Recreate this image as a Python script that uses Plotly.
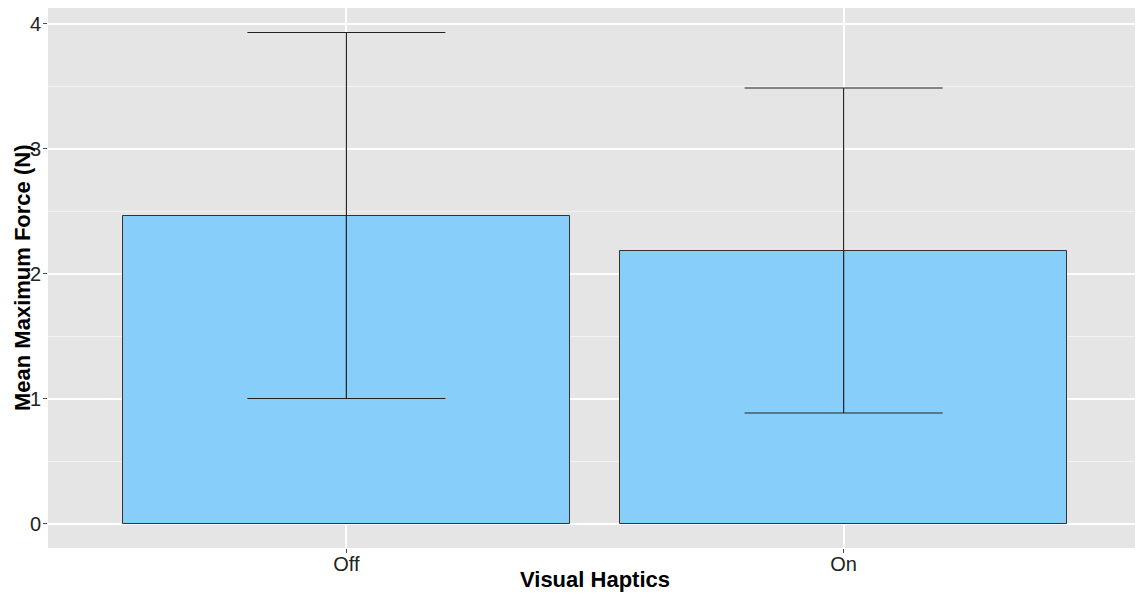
import plotly.graph_objects as go

categories = ["Off", "On"]
means = [2.464, 2.184]
sds = [1.464, 1.300]
y_ticks = [0, 1, 2, 3, 4]

fig = go.Figure()
fig.add_trace(go.Bar(
    x=[1, 2], y=means, width=0.9,
    marker=dict(color="#87CEFA", line=dict(color="#333333", width=1)),
    error_y=dict(type="data", array=sds, visible=True, color="#222222", thickness=1.2, width=99),
    showlegend=False,
))

fig.update_layout(
    width=1143, height=597,
    margin=dict(l=40, r=9, t=0, b=57, autoexpand=False),
    paper_bgcolor="white", plot_bgcolor="#E5E5E5",
    font=dict(family="Liberation Sans, Arial, sans-serif", size=20, color="#222222"),
    bargap=0,
    annotations=[
        dict(text="<b>Visual Haptics</b>", xref="paper", yref="paper", x=0.5, y=0,
             yshift=-31, xanchor="center", yanchor="middle", showarrow=False,
             font=dict(size=22, color="black")),
        dict(text="<b>Mean Maximum Force (N)</b>", xref="paper", yref="paper", x=0, y=0.5,
             xshift=-26, xanchor="center", yanchor="middle", textangle=-90, showarrow=False,
             font=dict(size=22, color="black")),
    ],
)
fig.update_xaxes(
    range=[0.4, 2.6], tickmode="array", tickvals=[1, 2], ticktext=categories,
    showgrid=True, gridcolor="white", gridwidth=1.5, zeroline=False,
    ticks="outside", ticklen=4, tickcolor="#4D4D4D", automargin=False,
    ticklabelstandoff=-6,
    tickfont=dict(size=20, color="#222222"),
)
fig.update_yaxes(
    range=[-0.196, 4.124], tickmode="array", tickvals=y_ticks,
    showgrid=True, gridcolor="white", gridwidth=1.5, zeroline=False,
    ticks="outside", ticklen=4, tickcolor="#4D4D4D", automargin=False,
    ticklabelstandoff=-2,
    tickfont=dict(size=20, color="#222222"),
    minor=dict(dtick=0.5, showgrid=True, gridcolor="#F2F2F2", gridwidth=0.8),
)
fig.write_html("out.html")
